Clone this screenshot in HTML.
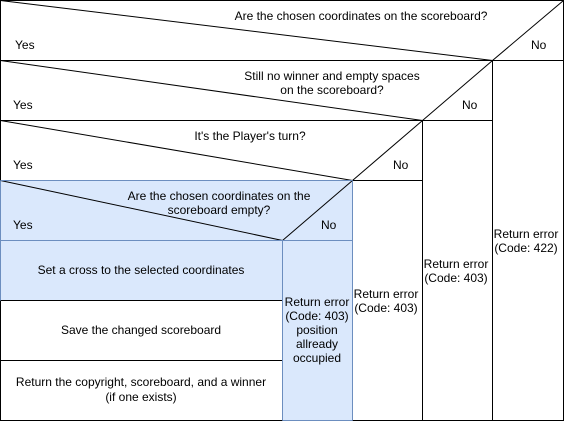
<!DOCTYPE html>
<html><head><style>
html,body{margin:0;padding:0;background:#fff;}
svg text{font-family:"Liberation Sans",Arial,sans-serif;font-size:12px;fill:#000;}
</style></head><body>
<svg width="564" height="421" viewBox="0 0 564 421" xmlns="http://www.w3.org/2000/svg">
<rect x="0" y="0" width="564" height="421" fill="#fff"/>
<rect x="0.5" y="180.5" width="352" height="60" fill="#dae8fc"/>
<rect x="0.5" y="240.5" width="282" height="60" fill="#dae8fc"/>
<rect x="282.5" y="240.5" width="70" height="180" fill="#dae8fc"/>
<g stroke="#000" stroke-width="1" fill="none">
<rect x="0.5" y="0.5" width="563" height="420"/>
<line x1="0.5" y1="0.5" x2="492.5" y2="60.5"/>
<line x1="492.5" y1="60.5" x2="563.5" y2="0.5"/>
<line x1="0.5" y1="60.5" x2="563.5" y2="60.5"/>
<line x1="492.5" y1="60.5" x2="492.5" y2="420.5"/>
<line x1="0.5" y1="60.5" x2="422.5" y2="120.5"/>
<line x1="422.5" y1="120.5" x2="492.5" y2="60.5"/>
<line x1="0.5" y1="120.5" x2="492.5" y2="120.5"/>
<line x1="422.5" y1="120.5" x2="422.5" y2="420.5"/>
<line x1="0.5" y1="120.5" x2="352.5" y2="180.5"/>
<line x1="352.5" y1="180.5" x2="422.5" y2="120.5"/>
<line x1="0.5" y1="180.5" x2="422.5" y2="180.5"/>
<line x1="352.5" y1="180.5" x2="352.5" y2="420.5"/>
<line x1="0.5" y1="180.5" x2="282.5" y2="240.5"/>
<line x1="282.5" y1="240.5" x2="352.5" y2="180.5"/>
<line x1="0.5" y1="300.5" x2="282.5" y2="300.5"/>
<line x1="0.5" y1="360.5" x2="282.5" y2="360.5"/>
</g>
<g stroke="#6c8ebf" stroke-width="1" fill="none">
<line x1="0.5" y1="240.5" x2="352.5" y2="240.5"/>
<line x1="282.5" y1="240.5" x2="282.5" y2="420.5"/>
<line x1="352.5" y1="180.5" x2="352.5" y2="420.5"/>
<line x1="0.5" y1="180.5" x2="0.5" y2="300.5"/>
<line x1="0.5" y1="180.5" x2="352.5" y2="180.5"/>
<line x1="282.5" y1="420.5" x2="352.5" y2="420.5"/>
</g>
<text x="361" y="20" text-anchor="middle">Are the chosen coordinates on the scoreboard?</text>
<text x="15" y="49">Yes</text>
<text x="531" y="49">No</text>
<text x="332" y="80" text-anchor="middle">Still no winner and empty spaces</text>
<text x="332" y="94" text-anchor="middle">on the scoreboard?</text>
<text x="13" y="109">Yes</text>
<text x="462" y="109">No</text>
<text x="250" y="140" text-anchor="middle">It's the Player's turn?</text>
<text x="13" y="169">Yes</text>
<text x="393" y="169">No</text>
<text x="219" y="200" text-anchor="middle">Are the chosen coordinates on the</text>
<text x="219" y="214" text-anchor="middle">scoreboard empty?</text>
<text x="13" y="229">Yes</text>
<text x="321" y="229">No</text>
<text x="141" y="274" text-anchor="middle">Set a cross to the selected coordinates</text>
<text x="141" y="334" text-anchor="middle">Save the changed scoreboard</text>
<text x="141" y="386" text-anchor="middle">Return the copyright, scoreboard, and a winner</text>
<text x="141" y="401" text-anchor="middle">(if one exists)</text>
<g text-anchor="middle">
<text x="317" y="306">Return error</text>
<text x="317" y="320">(Code: 403)</text>
<text x="317" y="334">position</text>
<text x="317" y="348">allready</text>
<text x="317" y="362">occupied</text>
<text x="386" y="298">Return error</text>
<text x="386" y="312">(Code: 403)</text>
<text x="456" y="268">Return error</text>
<text x="456" y="282">(Code: 403)</text>
<text x="526" y="238">Return error</text>
<text x="526" y="252">(Code: 422)</text>
</g>
</svg>
</body></html>
